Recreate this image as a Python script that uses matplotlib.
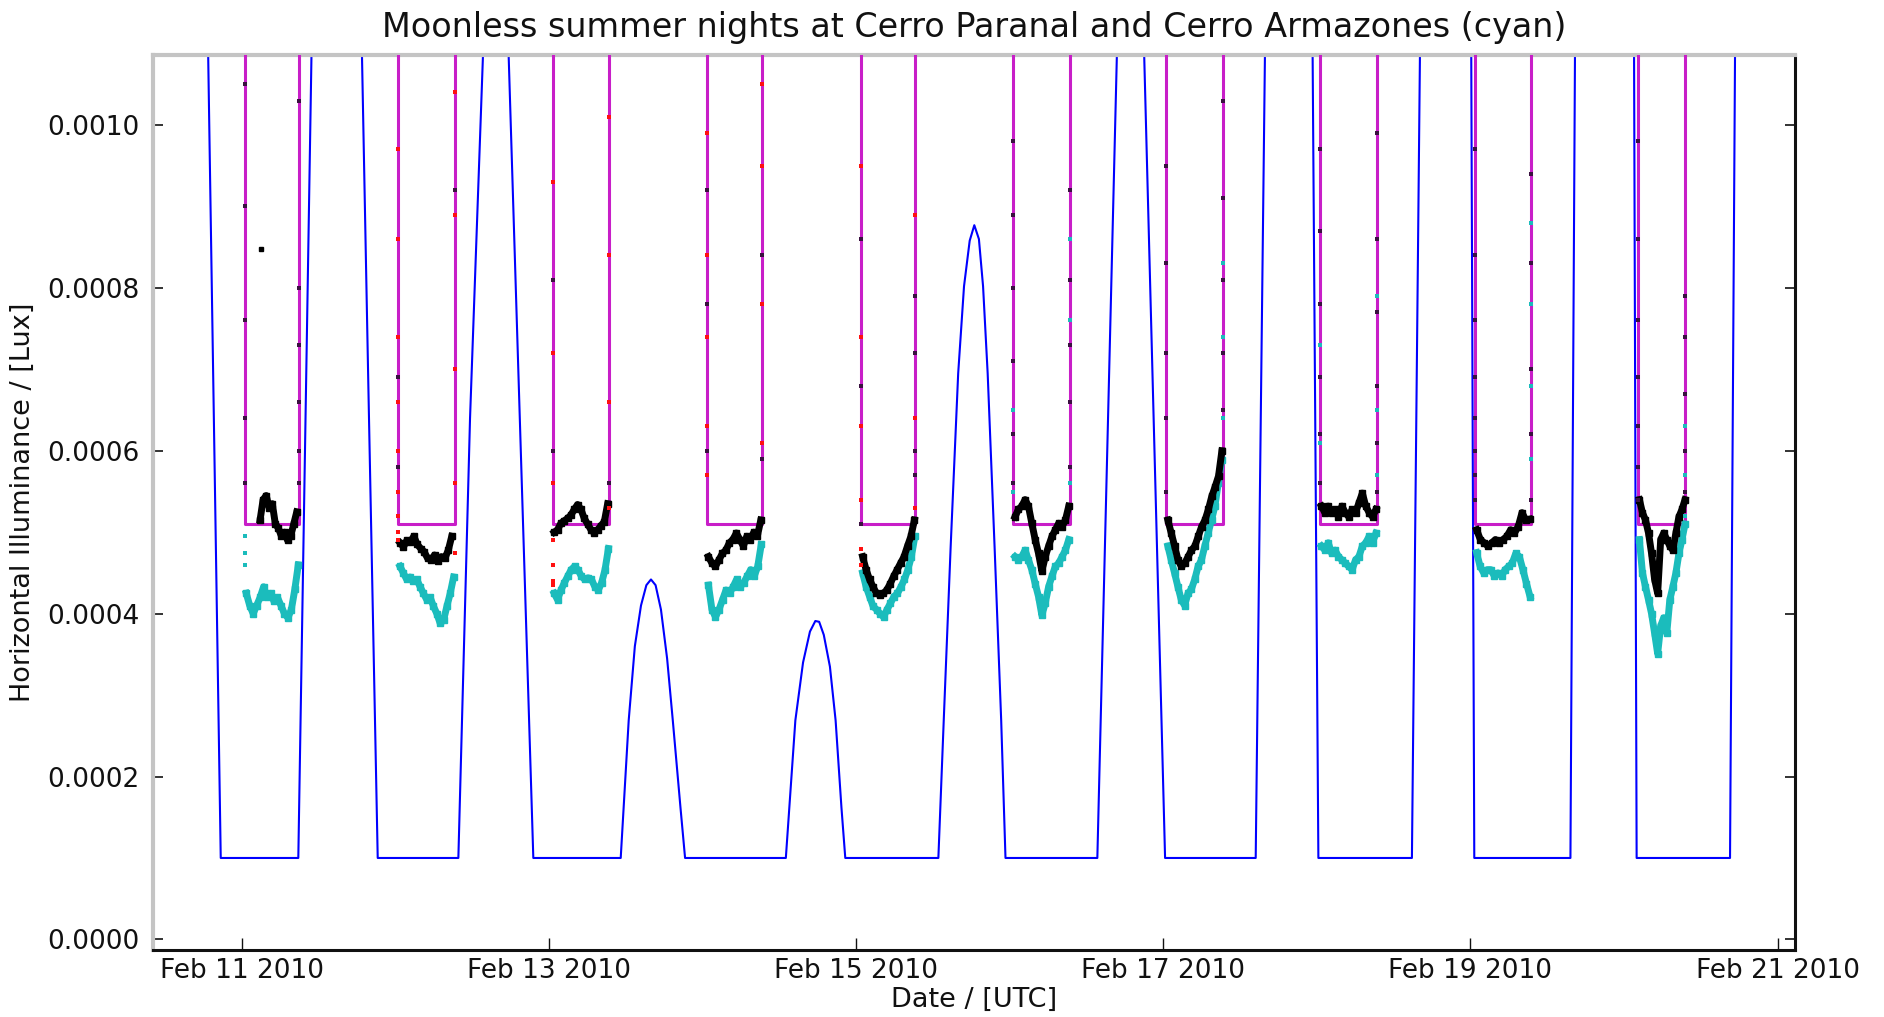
import numpy as np
import matplotlib
matplotlib.use("Agg")
import matplotlib.pyplot as plt
import matplotlib.dates as mdates
from matplotlib.ticker import FormatStrFormatter, FixedLocator
from datetime import datetime

plt.rcParams['font.family'] = ['DejaVu Sans']

BASE = datetime(2010, 2, 11)          # day offsets below are counted from Feb 11 2010 00:00 UTC
UNIT = 1e-4                           # band values are given in units of 1e-4 lux

# ---- model curve (blue): day offset, lux (values > 0.00109 are off the top) ----
blue_day = [-0.60, -0.219, -0.136, 0.369, 0.456, 0.60, 0.782, 0.825, 0.886, 1.411, 1.487, 1.574,
            1.65, 1.736, 1.899, 2.468, 2.520, 2.560, 2.600, 2.635, 2.665, 2.695, 2.730, 2.770,
            2.807, 2.857, 2.887, 3.543, 3.605, 3.655, 3.700, 3.735, 3.760, 3.790, 3.830, 3.867,
            3.905, 3.930, 4.536, 4.571, 4.616, 4.665, 4.703, 4.740, 4.770, 4.800, 4.827, 4.857,
            4.902, 4.945, 4.973, 5.571, 5.700, 5.79, 5.874, 6.012, 6.602, 6.663, 6.82, 6.972,
            7.010, 7.619, 7.672, 7.85, 8.005, 8.025, 8.651, 8.681, 8.87, 9.065, 9.082, 9.690,
            9.723, 10.20]
blue_lux = [0.0030, 0.0011, 0.0001, 0.0001, 0.0011, 0.0040, 0.0011, 0.00068, 0.0001, 0.0001, 0.00064, 0.0011,
            0.0030, 0.0011, 0.0001, 0.0001, 0.000269, 0.000360, 0.000410, 0.000435, 0.000442, 0.000435, 0.000405, 0.000345,
            0.000269, 0.000162, 0.0001, 0.0001, 0.000269, 0.000340, 0.000378, 0.000391, 0.000390, 0.000374, 0.000335, 0.000269,
            0.000162, 0.0001, 0.0001, 0.000269, 0.000482, 0.000695, 0.000802, 0.000858, 0.000877, 0.000860, 0.000802, 0.000695,
            0.000482, 0.000269, 0.0001, 0.0001, 0.0011, 0.0030, 0.0011, 0.0001, 0.0001, 0.0011, 0.0050, 0.0011,
            0.0001, 0.0001, 0.0011, 0.0080, 0.0011, 0.0001, 0.0001, 0.0011, 0.0100, 0.0011, 0.0001, 0.0001,
            0.0011, 0.0100]

# ---- moonless dark windows (magenta) ----
box_start = [0.022, 1.020, 2.029, 3.032, 4.032, 5.025, 6.016, 7.021, 8.030, 9.088]
box_end   = [0.375, 1.387, 2.389, 3.388, 4.385, 5.394, 6.387, 7.390, 8.392, 9.400]
box_level = 0.00051
box_outside = 0.01

# ---- measured sky brightness per night: (first sample day, last sample day) and values ----
black_span = [(0.120, 0.359), (1.031, 1.368), (2.035, 2.383), (3.039, 3.380), (4.043, 4.380),
              (5.035, 5.385), (6.030, 6.382), (7.030, 7.385), (8.040, 8.385), (9.100, 9.397)]
cyan_span  = [(0.030, 0.369), (1.031, 1.380), (2.035, 2.388), (3.039, 3.383), (4.043, 4.383),
              (5.035, 5.385), (6.030, 6.380), (7.030, 7.385), (8.040, 8.388), (9.100, 9.397)]

paranal_1 = [5.15, 5.4, 5.45, 5.3, 5.35, 5.1, 5.05, 4.95, 5.0, 4.9, 4.95, 5.1, 5.25]
paranal_2 = [4.87, 4.82, 4.9, 4.88, 4.95, 4.85, 4.8, 4.76, 4.68, 4.66, 4.72, 4.65, 4.7, 4.68, 4.78, 4.95]
paranal_3 = [5.0, 5.03, 5.11, 5.14, 5.17, 5.21, 5.28, 5.34, 5.28, 5.17, 5.1, 5.03, 4.99, 5.03, 5.08, 5.13, 5.35]
paranal_4 = [4.70, 4.62, 4.58, 4.66, 4.74, 4.78, 4.87, 4.91, 4.99, 4.91, 4.83, 4.95, 4.91, 5.0, 4.95, 5.15]
paranal_5 = [4.70, 4.54, 4.42, 4.33, 4.25, 4.23, 4.25, 4.29, 4.37, 4.46, 4.54, 4.62, 4.70, 4.83, 4.95, 5.15]
paranal_6 = [5.19, 5.28, 5.32, 5.40, 5.32, 5.11, 4.91, 4.74, 4.52, 4.70, 4.83, 4.95, 5.03, 5.11, 5.07, 5.15, 5.32]
paranal_7 = [5.15, 4.99, 4.83, 4.66, 4.58, 4.62, 4.70, 4.78, 4.83, 4.95, 5.07, 5.15, 5.28, 5.44, 5.56, 5.69, 6.0]
paranal_8 = [5.32, 5.24, 5.32, 5.24, 5.28, 5.19, 5.32, 5.24, 5.19, 5.28, 5.24, 5.36, 5.48, 5.32, 5.24, 5.19, 5.28]
paranal_9 = [5.03, 4.91, 4.87, 4.83, 4.87, 4.91, 4.87, 4.91, 4.95, 5.03, 4.99, 5.07, 5.24, 5.15, 5.16]
paranal_10 = [5.40, 5.24, 5.15, 4.99, 4.74, 4.42, 4.25, 4.91, 4.99, 4.91, 4.83, 4.78, 4.99, 5.19, 5.28, 5.40]

armazones_1 = [4.25, 4.1, 4.0, 4.1, 4.2, 4.33, 4.2, 4.25, 4.15, 4.2, 4.1, 4.0, 3.95, 4.05, 4.3, 4.6]
armazones_2 = [4.58, 4.5, 4.42, 4.45, 4.4, 4.42, 4.33, 4.25, 4.17, 4.2, 4.09, 4.0, 3.88, 3.92, 4.09, 4.25, 4.45]
armazones_3 = [4.25, 4.17, 4.29, 4.38, 4.46, 4.54, 4.58, 4.54, 4.46, 4.42, 4.44, 4.42, 4.33, 4.29, 4.38, 4.54, 4.8]
armazones_4 = [4.35, 4.05, 3.96, 4.05, 4.17, 4.29, 4.25, 4.33, 4.42, 4.33, 4.38, 4.46, 4.54, 4.46, 4.58, 4.85]
armazones_5 = [4.5, 4.33, 4.21, 4.09, 4.05, 4.0, 3.96, 4.05, 4.13, 4.21, 4.25, 4.33, 4.42, 4.54, 4.70, 4.95]
armazones_6 = [4.70, 4.66, 4.70, 4.78, 4.66, 4.54, 4.37, 4.21, 3.98, 4.13, 4.33, 4.46, 4.58, 4.62, 4.70, 4.78, 4.91]
armazones_7 = [4.83, 4.66, 4.50, 4.33, 4.17, 4.10, 4.25, 4.3, 4.42, 4.58, 4.66, 4.83, 4.99, 5.15, 5.32, 5.60, 5.89]
armazones_8 = [4.83, 4.78, 4.87, 4.74, 4.78, 4.70, 4.66, 4.62, 4.58, 4.54, 4.66, 4.70, 4.83, 4.87, 4.95, 4.87, 4.99]
armazones_9 = [4.75, 4.58, 4.50, 4.54, 4.54, 4.46, 4.50, 4.46, 4.54, 4.58, 4.62, 4.74, 4.70, 4.54, 4.37, 4.21]
armazones_10 = [4.91, 4.50, 4.33, 4.17, 4.0, 3.76, 3.51, 3.85, 3.95, 3.76, 4.17, 4.33, 4.5, 4.74, 4.91, 5.1]

paranal = [paranal_1, paranal_2, paranal_3, paranal_4, paranal_5,
           paranal_6, paranal_7, paranal_8, paranal_9, paranal_10]
armazones = [armazones_1, armazones_2, armazones_3, armazones_4, armazones_5,
             armazones_6, armazones_7, armazones_8, armazones_9, armazones_10]

# ---- twilight samples along the window edges (1e-4 lux), left edge / right edge per night ----
edge_dark_left = [[10.5, 9.0, 7.6, 6.4, 5.6], [5.8, 6.9], [6.0, 8.1], [6.0, 7.8, 9.2], [5.1, 6.8, 8.6],
                  [5.6, 6.2, 7.1, 8.0, 8.9, 9.8], [5.5, 6.4, 7.2, 8.3, 9.5], [5.6, 6.2, 6.9, 7.8, 8.7, 9.7],
                  [5.4, 5.7, 6.0, 6.4, 6.9, 7.6, 8.4, 9.7], [5.4, 5.8, 6.3, 6.9, 7.6, 8.6, 9.8]]
edge_dark_right = [[5.6, 6.0, 6.6, 7.3, 8.0, 10.3], [9.2], [5.6], [5.9, 8.4], [5.7, 6.0, 7.2, 7.9],
                   [5.8, 6.6, 7.3, 8.1, 9.2], [6.5, 7.2, 8.1, 9.1, 10.3], [5.5, 6.1, 6.8, 7.7, 8.6, 9.9],
                   [5.4, 6.2, 7.0, 8.3, 9.4], [5.5, 6.0, 6.7, 7.4, 7.9]]
edge_red_left = [[], [4.9, 5.0, 5.2, 5.5, 6.0, 6.6, 7.4, 8.6, 9.7], [4.9, 4.6, 4.4, 4.35, 5.6, 7.2, 9.3],
                 [5.7, 6.3, 7.4, 8.4, 9.9], [4.8, 4.6, 5.4, 6.3, 7.4, 9.5], [], [], [], [], []]
edge_red_right = [[], [4.75, 5.6, 7.0, 8.9, 10.4], [5.3, 6.6, 8.4, 10.1], [6.1, 7.8, 9.5, 10.5],
                  [5.3, 6.4, 8.9], [], [], [], [], []]
edge_cyan_left = [[4.95, 4.75, 4.6], [], [], [], [], [5.5, 6.5], [], [6.1, 7.3], [], []]
edge_cyan_right = [[], [], [], [], [], [5.6, 7.6, 8.6], [6.4, 7.4, 8.3], [5.7, 6.5, 7.9],
                   [5.9, 6.8, 7.8, 8.8], [5.2, 5.7, 6.3]]
stray_day = [0.125]
stray_val = [8.48]

x_range = (-0.577, 10.113)
y_range = (-0.000013, 0.001086)
y_ticks = [0.0, 0.0002, 0.0004, 0.0006, 0.0008, 0.0010]

# ------------------------------------------------------------------
t0 = mdates.date2num(BASE)

fig = plt.figure(figsize=(18.84, 10.17), dpi=100)
ax = fig.add_axes([153 / 1884, 1 - 950 / 1017, (1795 - 153) / 1884, (950 - 55) / 1017])

ax.plot(t0 + np.array(blue_day), blue_lux, color='#0000ff', lw=1.5, zorder=2)

mx, my = [], []
for s, e in zip(box_start, box_end):
    mx += [s, s, e, e]
    my += [box_outside, box_level, box_level, box_outside]
ax.plot(t0 + np.array(mx), my, color='#c81ec8', lw=2.2, zorder=3)

for (a, b), vals in zip(cyan_span, armazones):
    t = t0 + np.linspace(a, b, len(vals))
    ax.plot(t, np.array(vals) * UNIT, color='#1bbcbc', lw=5.0, marker='s', ms=4.5,
            mec='#1bbcbc', zorder=4)
for (a, b), vals in zip(black_span, paranal):
    t = t0 + np.linspace(a, b, len(vals))
    ax.plot(t, np.array(vals) * UNIT, color='black', lw=5.0, marker='s', ms=4.5, zorder=5)

def edge_points(lists, which, color):
    for i, vals in enumerate(lists):
        if not vals:
            continue
        d = box_start[i] if which == 'left' else box_end[i]
        ax.plot(t0 + np.full(len(vals), d), np.array(vals) * UNIT, ls='none', marker='s',
                ms=2.6, color=color, mew=0, zorder=6)

edge_points(edge_dark_left, 'left', '#3a1040')
edge_points(edge_dark_right, 'right', '#3a1040')
edge_points(edge_red_left, 'left', '#ff1010')
edge_points(edge_red_right, 'right', '#ff1010')
edge_points(edge_cyan_left, 'left', '#1bbcbc')
edge_points(edge_cyan_right, 'right', '#1bbcbc')
ax.plot(t0 + np.array(stray_day), np.array(stray_val) * UNIT, ls='none', marker='s', ms=2.6,
        color='black', zorder=6)

ax.set_xlim(t0 + x_range[0], t0 + x_range[1])
ax.set_ylim(*y_range)

ax.xaxis.set_major_locator(mdates.DayLocator(interval=2))
ax.xaxis.set_major_formatter(mdates.DateFormatter('%b %d %Y'))
ax.yaxis.set_major_locator(FixedLocator(y_ticks))
ax.yaxis.set_major_formatter(FormatStrFormatter('%.4f'))

ax.tick_params(axis='both', direction='in', labelsize=19, colors='#111111')
ax.tick_params(axis='y', which='major', length=7, width=1.2, left=True, right=True, pad=10)
ax.tick_params(axis='x', which='major', length=9, width=1.0, bottom=True, top=False, pad=6)

for side in ('top', 'left'):
    ax.spines[side].set_color('#c4c4c4')
    ax.spines[side].set_linewidth(3)
for side in ('bottom', 'right'):
    ax.spines[side].set_color('#111111')
    ax.spines[side].set_linewidth(2.2)

ax.set_title('Moonless summer nights at Cerro Paranal and Cerro Armazones (cyan)',
             fontsize=24, pad=13, color='#111111')
ax.set_xlabel('Date / [UTC]', fontsize=19.5, labelpad=2, color='#111111')
ax.set_ylabel('Horizontal Illuminance / [Lux]', fontsize=19.5, labelpad=8, color='#111111')

fig.savefig('out.png', dpi=100)
